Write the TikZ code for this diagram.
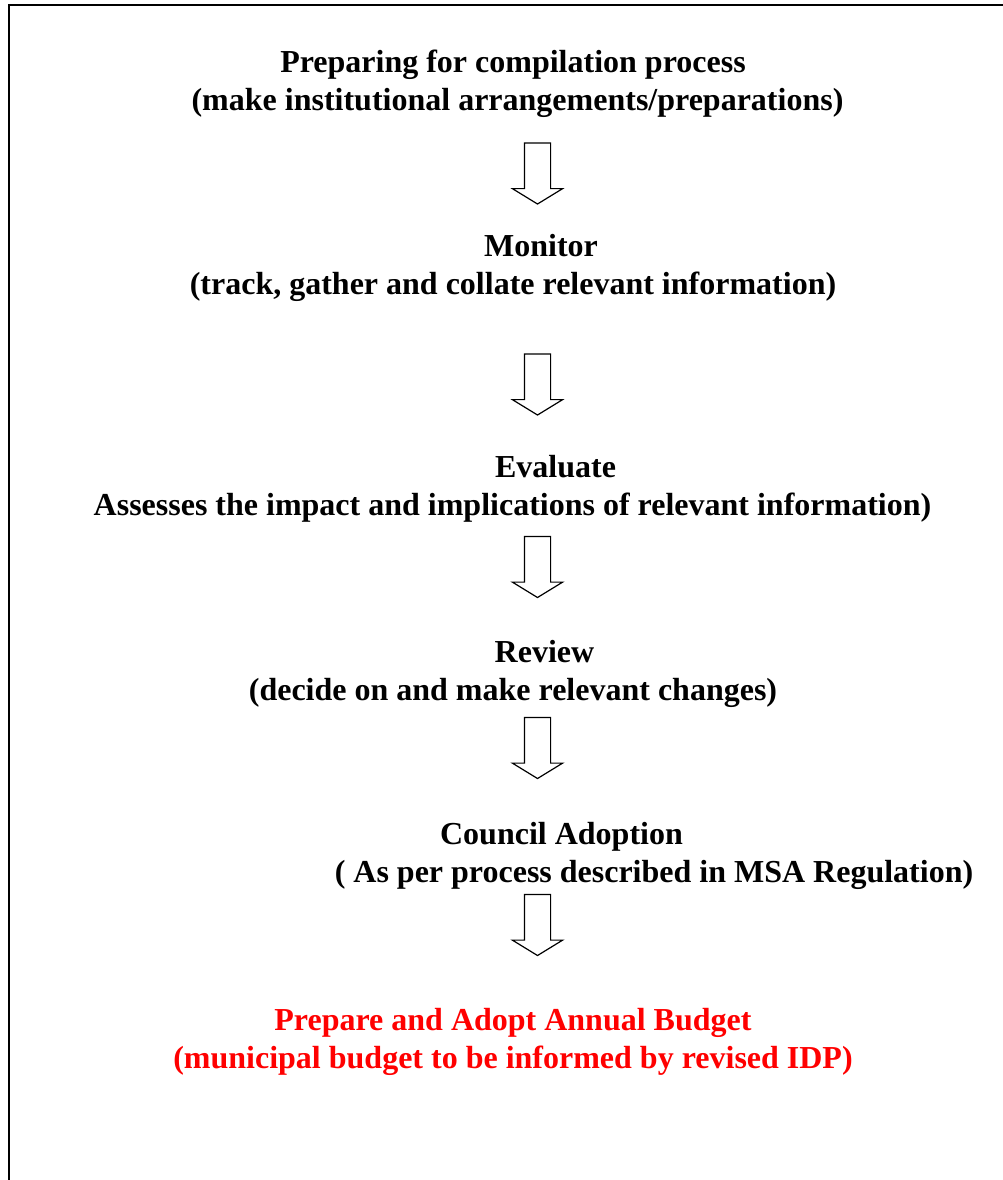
\documentclass[tikz,border=0pt]{standalone}
\usepackage{fontspec}
\setmainfont{Liberation Serif}
\usetikzlibrary{shapes.arrows}
\tikzset{
  txt/.style={anchor=base, inner sep=0pt, font=\fontsize{32}{38}\selectfont\bfseries},
  redtxt/.style={txt, text=red},
  blockarrow/.style={single arrow, draw=black, line width=1.2pt, fill=white,
    rotate=-90, minimum height=61pt, inner xsep=0pt, inner ysep=12.5pt,
    single arrow head extend=12pt, single arrow tip angle=117, single arrow head indent=0pt},
  frame/.style={line width=2.2pt}
}
\begin{document}
\begin{tikzpicture}[x=1pt,y=-1pt]
\useasboundingbox (0,0) rectangle (1003,1180);
\coordinate (fb) at (9,1180);
\coordinate (fc) at (9,5);
\coordinate (fr) at (1003,5);
\draw[frame] (fb) -- (fc) -- (fr);

\node[txt] (p1) at (513,73) {Preparing for compilation process};
\node[txt] (p2) at (517.5,111) {(make institutional arrangements/preparations)};
\node[blockarrow] (a1) at (537.5,169.5) {};

\node[txt] (m1) at (541,256) {Monitor};
\node[txt] (m2) at (513,294) {(track, gather and collate relevant information)};
\node[blockarrow] (a2) at (537.5,380.5) {};

\node[txt] (e1) at (555.5,477) {Evaluate};
\node[txt] (e2) at (512.5,515) {Assesses the impact and implications of relevant information)};
\node[blockarrow] (a3) at (537.5,563) {};

\node[txt] (r1) at (544.5,662) {Review};
\node[txt] (r2) at (513,700) {(decide on and make relevant changes)};
\node[blockarrow] (a4) at (537.5,744) {};

\node[txt] (c1) at (561.5,844) {Council Adoption};
\node[txt] (c2) at (654,882) {( As per process described in MSA Regulation)};
\node[blockarrow] (a5) at (537.5,921) {};

\node[redtxt] (b1) at (513,1030) {Prepare and Adopt Annual Budget};
\node[redtxt] (b2) at (513,1068) {(municipal budget to be informed by revised IDP)};
\end{tikzpicture}
\end{document}
